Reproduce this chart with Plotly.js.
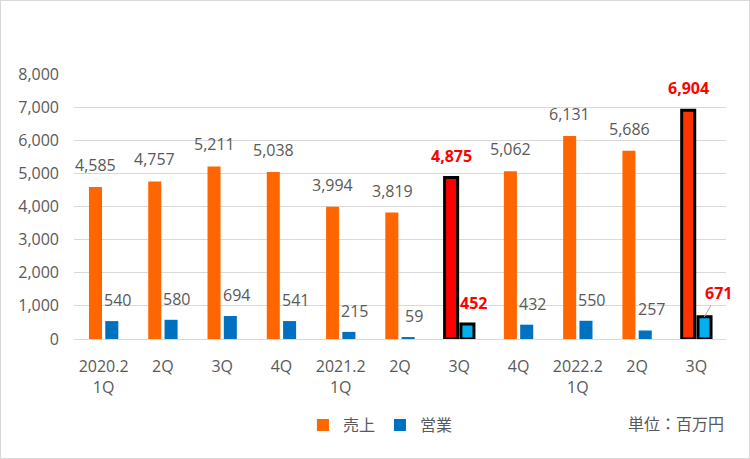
<!DOCTYPE html>
<html><head><meta charset="utf-8">
<script src="https://cdn.plot.ly/plotly-3.0.1.min.js"></script>
<style>html,body{margin:0;padding:0;background:#fff}#c{width:748px;height:457px;border:1px solid #D9D9D9}</style>
</head><body><div id="c"></div>
<script>
const tickLabels = ["2020.2<br>1Q","2Q","3Q","4Q","2021.2<br>1Q","2Q","3Q","4Q","2022.2<br>1Q","2Q","3Q"];
const sales = [4585,4757,5211,5038,3994,3819,4875,5062,6131,5686,6904];
const oper  = [540,580,694,541,215,59,452,432,550,257,671];
const highlight = [false,false,false,false,false,false,true,false,false,false,true];
const salesHiColor = ["","","","","","","#FF0000","","","","#FF3300"];

const xs = tickLabels.map((_, i) => i);
const fam = "'Open Sans','Noto Sans CJK JP',sans-serif";
const gray = "#595959";

const tr1 = {
  type:'bar', name:'売上', x: xs, y: sales,
  marker:{color: sales.map((_, i) => highlight[i] ? salesHiColor[i] : '#FF6600'),
          line:{color: sales.map((_, i) => highlight[i] ? '#000' : 'rgba(0,0,0,0)'), width: sales.map((_, i) => highlight[i] ? 3 : 0)}},
  hoverinfo:'skip'
};
const tr2 = {
  type:'bar', name:'営業', x: xs, y: oper,
  marker:{color: oper.map((_, i) => highlight[i] ? '#00B0F0' : '#0070C0'),
          line:{color: oper.map((_, i) => highlight[i] ? '#000' : 'rgba(0,0,0,0)'), width: oper.map((_, i) => highlight[i] ? 3 : 0)}},
  hoverinfo:'skip'
};

const fmt = v => v.toLocaleString('en-US');
const anns = [];
sales.forEach((v, i) => {
  anns.push({x: i, y: v, xshift: -8, yshift: 22, text: fmt(v), showarrow:false,
    font:{family:fam, size: 16, color: highlight[i] ? '#FF0000' : gray, weight: highlight[i] ? 'bold' : 'normal'}});
});
oper.forEach((v, i) => {
  if (i === oper.length - 1) {
    anns.push({x: i, y: v, xshift: 8, text: fmt(v), showarrow:true, arrowhead:0, arrowwidth:1, arrowcolor:'#A6A6A6',
      ax: 14, ay: -24, standoff: 0,
      font:{family:fam, size: 16, color:'#FF0000', weight:'bold'}});
  } else {
    anns.push({x: i, y: v, xshift: 14, yshift: 21, text: fmt(v), showarrow:false,
      font:{family:fam, size: 16, color: highlight[i] ? '#FF0000' : gray, weight: highlight[i] ? 'bold' : 'normal'}});
  }
});
anns.push({xref:'paper', yref:'paper', x: 1.0, y: -0.32, xanchor:'right', yanchor:'middle', text:'単位：百万円', showarrow:false,
  font:{family:fam, size:16, color:gray}});

const layout = {
  width: 748, height: 457,
  margin:{l:73, r:23, t:73, b:119},
  paper_bgcolor:'#fff', plot_bgcolor:'#fff',
  barmode:'group', bargap:0.45, bargroupgap:0.2,
  font:{family:fam, size:16, color:gray},
  xaxis:{tickvals: xs, ticktext: tickLabels, range:[-0.5, 10.5], showgrid:false, zeroline:false,
    showline:false, ticks:'', ticklabelstandoff: 16, tickfont:{size:16, color:gray}},
  yaxis:{range:[0,8000], dtick:1000, tickformat:',d', gridcolor:'#D9D9D9', gridwidth:1, zeroline:true,
    zerolinecolor:'#D9D9D9', showline:false, ticks:'', ticklabelstandoff: 14, tickfont:{size:16, color:gray}},
  legend:{orientation:'h', x:0.47, xanchor:'center', y:-0.325, yanchor:'middle', font:{size:16, color:gray},
    itemwidth:30, traceorder:'normal'},
  annotations: anns,
  showlegend:true
};
Plotly.newPlot('c', [tr1, tr2], layout, {staticPlot:true, displayModeBar:false});
</script></body></html>
